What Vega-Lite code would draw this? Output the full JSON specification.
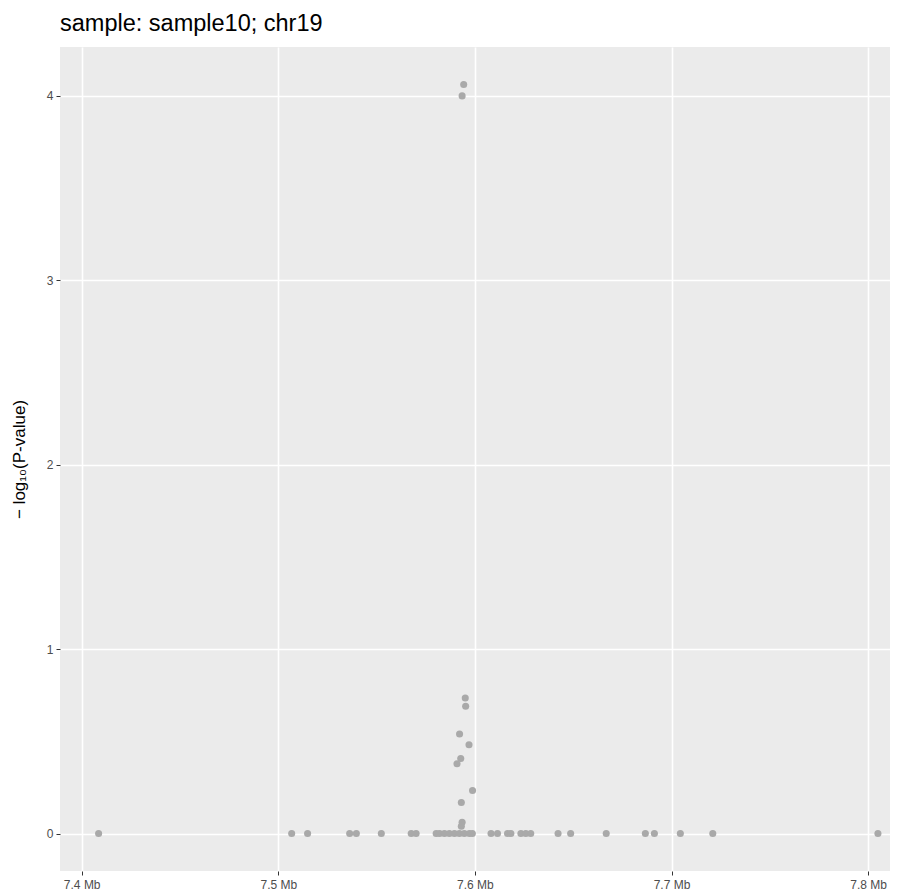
{
  "$schema": "https://vega.github.io/schema/vega-lite/v6.json",
  "width": 830,
  "height": 824,
  "autosize": {"type": "none"},
  "padding": {"left": 60, "top": 47, "right": 17, "bottom": 24},
  "background": "white",
  "view": {"fill": "#EBEBEB", "stroke": null},
  "title": {"text": "sample: sample10; chr19", "anchor": "start", "frame": "group", "fontSize": 23.5, "fontWeight": "normal", "font": "Liberation Sans", "color": "black", "offset": 12},
  "data": {"values": [
    {"pos": 7.4086, "p": 0},
    {"pos": 7.5068, "p": 0},
    {"pos": 7.5149, "p": 0},
    {"pos": 7.5363, "p": 0},
    {"pos": 7.5397, "p": 0},
    {"pos": 7.5524, "p": 0},
    {"pos": 7.5676, "p": 0},
    {"pos": 7.5701, "p": 0},
    {"pos": 7.5803, "p": 0},
    {"pos": 7.5820, "p": 0},
    {"pos": 7.5845, "p": 0},
    {"pos": 7.5870, "p": 0},
    {"pos": 7.5896, "p": 0},
    {"pos": 7.5921, "p": 0},
    {"pos": 7.5946, "p": 0},
    {"pos": 7.5972, "p": 0},
    {"pos": 7.5987, "p": 0},
    {"pos": 7.6082, "p": 0},
    {"pos": 7.6115, "p": 0},
    {"pos": 7.6166, "p": 0},
    {"pos": 7.6183, "p": 0},
    {"pos": 7.6234, "p": 0},
    {"pos": 7.6259, "p": 0},
    {"pos": 7.6284, "p": 0},
    {"pos": 7.6423, "p": 0},
    {"pos": 7.6487, "p": 0},
    {"pos": 7.6668, "p": 0},
    {"pos": 7.6867, "p": 0},
    {"pos": 7.6913, "p": 0},
    {"pos": 7.7045, "p": 0},
    {"pos": 7.7210, "p": 0},
    {"pos": 7.8050, "p": 0},
    {"pos": 7.5943, "p": 4.06},
    {"pos": 7.5935, "p": 3.998},
    {"pos": 7.5951, "p": 0.735},
    {"pos": 7.5953, "p": 0.690},
    {"pos": 7.5922, "p": 0.540},
    {"pos": 7.5970, "p": 0.481},
    {"pos": 7.5928, "p": 0.407},
    {"pos": 7.5909, "p": 0.378},
    {"pos": 7.5988, "p": 0.233},
    {"pos": 7.5931, "p": 0.168},
    {"pos": 7.5935, "p": 0.061},
    {"pos": 7.5931, "p": 0.040}
  ]},
  "mark": {"type": "point", "filled": true, "size": 50, "color": "#A9A9A9", "opacity": 1},
  "encoding": {
    "x": {"field": "pos", "type": "quantitative",
      "scale": {"domain": [7.38896, 7.81114], "nice": false, "zero": false},
      "axis": {"title": null, "values": [7.4, 7.5, 7.6, 7.7, 7.8], "labelExpr": "format(datum.value, '.1f') + ' Mb'",
        "grid": true, "gridColor": "white", "gridWidth": 1.6, "domain": false,
        "tickColor": "#333333", "tickSize": 4, "tickWidth": 1, "labelColor": "#4D4D4D", "labelFontSize": 12, "labelFont": "Liberation Sans", "labelPadding": 4}},
    "y": {"field": "p", "type": "quantitative",
      "scale": {"domain": [-0.203, 4.263], "nice": false, "zero": false},
      "axis": {"title": "− log₁₀(P-value)", "values": [0, 1, 2, 3, 4], "format": "d",
        "grid": true, "gridColor": "white", "gridWidth": 1.6, "domain": false,
        "tickColor": "#333333", "tickSize": 4, "tickWidth": 1, "labelColor": "#4D4D4D", "labelFontSize": 12, "labelFont": "Liberation Sans", "labelPadding": 3,
        "titleFont": "Liberation Sans", "titleFontSize": 17, "titleFontWeight": "normal", "titleColor": "black", "titlePadding": 18}}
  }
}
